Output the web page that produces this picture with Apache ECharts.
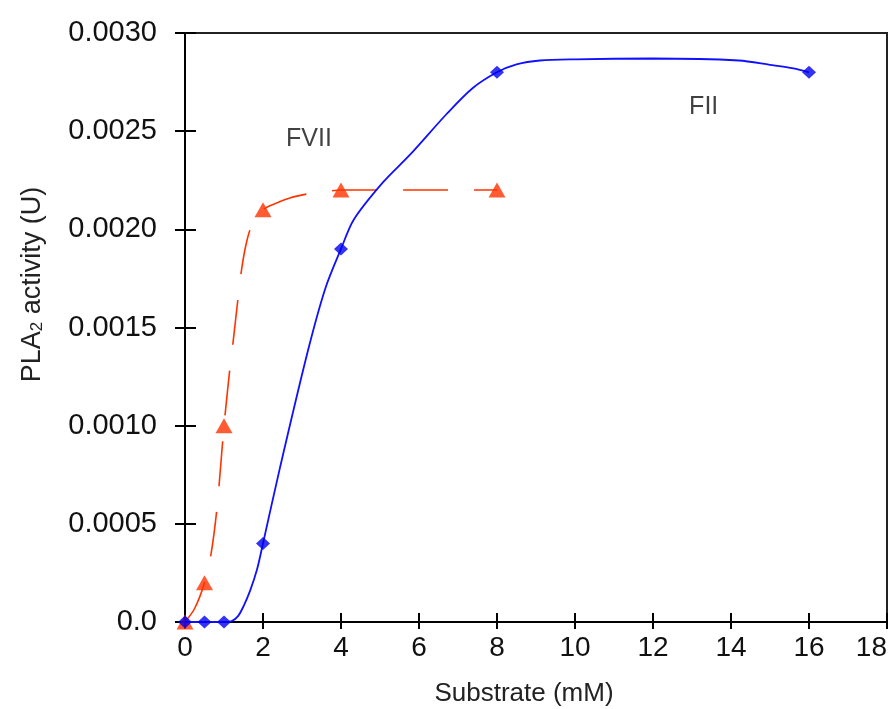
<!DOCTYPE html>
<html>
<head>
<meta charset="utf-8">
<script src="https://cdn.jsdelivr.net/npm/echarts@6/dist/echarts.min.js"></script>
<style>
html,body{margin:0;padding:0;background:#fff;}
#c{width:895px;height:709px;}
</style>
</head>
<body>
<div id="c"></div>
<script>
// Measured data points
const substrateFVII = [0, 0.5, 1, 2, 4, 8];
const activityFVII = [0, 0.0002, 0.001, 0.0021, 0.0022, 0.0022];
const substrateFII = [0, 0.5, 1, 2, 4, 8, 16];
const activityFII = [0, 0, 0, 0.0004, 0.0019, 0.0028, 0.0028];

// Fitted curves as drawn in the picture
const fviiCurveX = [0, 0.25, 0.5, 0.67, 0.82, 0.97, 1.03, 1.15, 1.23, 1.36, 1.44, 1.54, 1.67, 1.85, 2, 2.18, 2.69, 3.13, 3.54, 4, 5, 6, 7, 8];
const fviiCurveY = [0, 0.00007, 0.0002, 0.00035, 0.00058, 0.00093, 0.00106, 0.00129, 0.00142, 0.00165, 0.00178, 0.0019, 0.002, 0.00207, 0.0021, 0.00212, 0.00216, 0.00218, 0.00219, 0.0022, 0.0022, 0.0022, 0.0022, 0.0022];
const fiiCurveX = [0, 1, 1.2, 1.36, 1.5, 1.67, 1.85, 2, 2.44, 3.15, 3.6, 4, 4.33, 5.08, 5.77, 6.72, 7.38, 8, 8.5, 9.1, 10, 12, 14.2, 15, 15.6, 16];
const fiiCurveY = [0, 0, 0.000005, 0.00003, 0.00008, 0.00016, 0.00027, 0.0004, 0.00079, 0.00138, 0.0017, 0.0019, 0.00205, 0.00224, 0.00238, 0.00259, 0.00272, 0.0028, 0.00284, 0.00286, 0.002866, 0.00287, 0.00286, 0.002838, 0.00282, 0.0028];

// Axis tick labels
const xTickLabels = ['0', '2', '4', '6', '8', '10', '12', '14', '16', '18'];
const yTickLabels = ['0.0', '0.0005', '0.0010', '0.0015', '0.0020', '0.0025', '0.0030'];

// Series annotations
const seriesNames = ['FVII', 'FII'];
const labelX = [3.18, 13.3];
const labelY = [0.00246, 0.00262];

const FONT = 'Liberation Sans, Arial, sans-serif';
const RED = '#ff3300';
const BLUE = '#1010ff';

function zip(xs, ys) { return xs.map((x, i) => [x, ys[i]]); }

const chart = echarts.init(document.getElementById('c'), null, {renderer: 'canvas'});

const xBase = {
  type: 'value', min: 0, max: 18, interval: 2, position: 'bottom',
  splitLine: {show: false}
};
const yBase = {
  type: 'value', min: 0, max: 0.003, interval: 0.0005, position: 'left',
  splitLine: {show: false}
};

chart.setOption({
  backgroundColor: '#fff',
  animation: false,
  grid: {
    left: 185, right: 8, top: 33, bottom: 87,
    show: true, borderColor: '#222', borderWidth: 2,
    outerBoundsMode: 'none'
  },
  xAxis: [
    Object.assign({}, xBase, {
      axisLine: {show: true, onZero: false, lineStyle: {color: '#000', width: 2}},
      axisTick: {show: true, inside: false, length: 7, lineStyle: {color: '#000', width: 2}},
      axisLabel: {
        show: true, margin: 12, color: '#111', fontFamily: FONT, fontSize: 28,
        alignMaxLabel: 'right',
        formatter: v => xTickLabels[Math.round(v / 2)]
      },
      name: 'Substrate (mM)', nameLocation: 'middle', nameGap: 59,
      nameTextStyle: {color: '#222', fontFamily: FONT, fontSize: 26, padding: [0, 24, 0, 0]}
    }),
    Object.assign({}, xBase, {
      axisLine: {show: false},
      axisTick: {show: true, inside: true, length: 9, lineStyle: {color: '#000', width: 2}},
      axisLabel: {show: false}
    })
  ],
  yAxis: [
    Object.assign({}, yBase, {
      axisLine: {show: true, onZero: false, lineStyle: {color: '#000', width: 2}},
      axisTick: {show: true, inside: false, length: 10, lineStyle: {color: '#000', width: 2}},
      axisLabel: {
        show: true, margin: 28, color: '#111', fontFamily: FONT, fontSize: 29,
        formatter: v => yTickLabels[Math.round(v / 0.0005)]
      },
      name: 'PLA{sub|2} activity (U)', nameLocation: 'middle', nameGap: 139,
      nameTextStyle: {
        color: '#222', fontFamily: FONT, fontSize: 27, padding: [0, 0, 0, 86],
        rich: {sub: {fontSize: 17, fontFamily: FONT, color: '#222', verticalAlign: 'bottom', lineHeight: 14}}
      }
    }),
    Object.assign({}, yBase, {
      axisLine: {show: false},
      axisTick: {show: true, inside: true, length: 11, lineStyle: {color: '#000', width: 2}},
      axisLabel: {show: false}
    })
  ],
  series: [
    {
      name: 'FVII fit', type: 'line', xAxisIndex: 0, yAxisIndex: 0,
      data: zip(fviiCurveX, fviiCurveY), smooth: 0.3,
      showSymbol: false, symbol: 'none',
      lineStyle: {color: RED, width: 1.6, type: [45, 26]}, z: 2
    },
    {
      name: 'FVII', type: 'scatter', xAxisIndex: 0, yAxisIndex: 0,
      data: zip(substrateFVII, activityFVII),
      symbol: 'triangle', symbolSize: [17, 15],
      itemStyle: {color: RED}, z: 3
    },
    {
      name: 'FII fit', type: 'line', xAxisIndex: 0, yAxisIndex: 0,
      data: zip(fiiCurveX, fiiCurveY), smooth: 0.3,
      showSymbol: false, symbol: 'none',
      lineStyle: {color: BLUE, width: 1.8}, z: 4
    },
    {
      name: 'FII', type: 'scatter', xAxisIndex: 0, yAxisIndex: 0,
      data: zip(substrateFII, activityFII),
      symbol: 'diamond', symbolSize: [14, 13],
      itemStyle: {color: '#0000ee'}, z: 5
    },
    {
      name: 'labels', type: 'scatter', xAxisIndex: 0, yAxisIndex: 0,
      data: seriesNames.map((n, i) => ({name: n, value: [labelX[i], labelY[i]]})),
      symbolSize: 0, silent: true,
      label: {
        show: true, position: 'inside', formatter: p => p.name,
        color: '#111', fontFamily: FONT, fontSize: 25
      }, z: 6
    }
  ]
});
</script>
</body>
</html>
